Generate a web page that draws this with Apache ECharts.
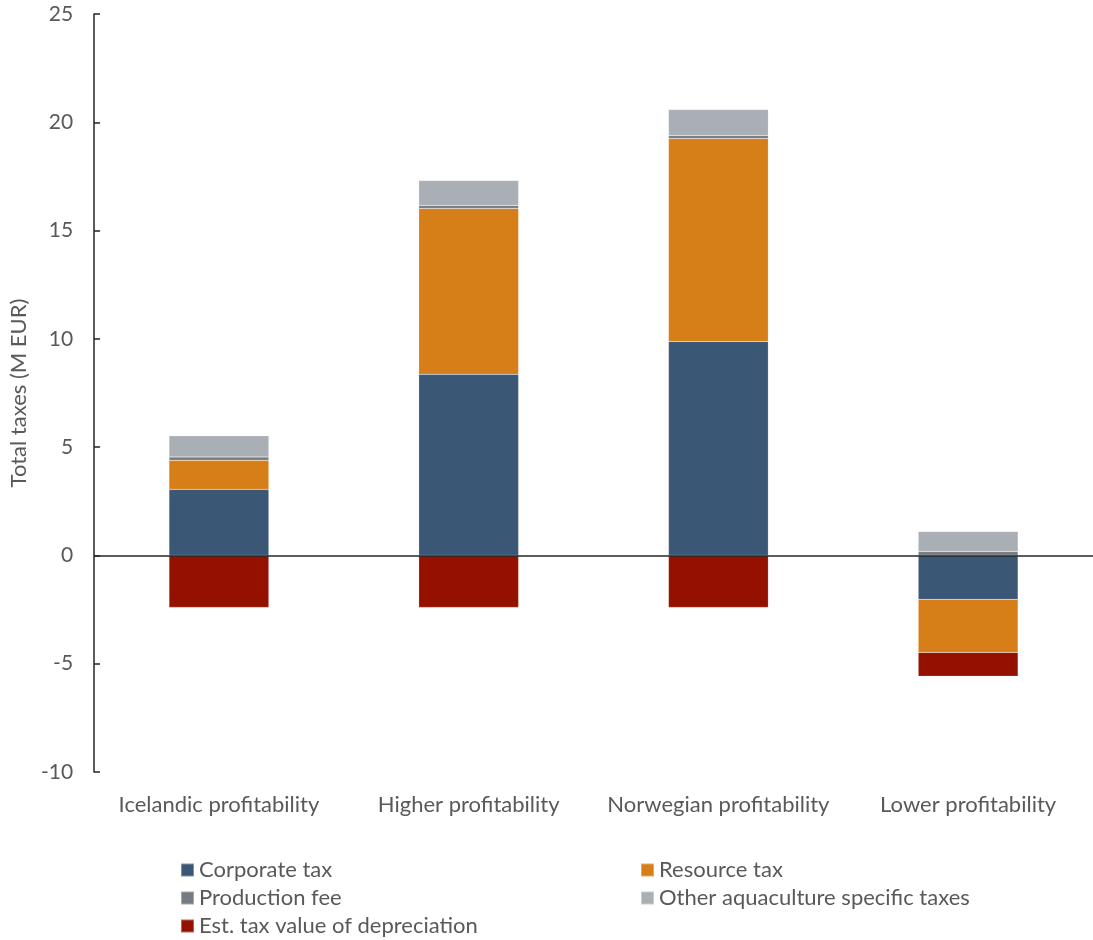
<!DOCTYPE html>
<html>
<head>
<meta charset="utf-8">
<script src="https://cdn.jsdelivr.net/npm/echarts@6/dist/echarts.min.js"></script>
<style>html,body{margin:0;padding:0;background:#fff}#chart{width:1093px;height:940px}</style>
</head>
<body>
<div id="chart"></div>
<script>
const categories = ['Icelandic profitability', 'Higher profitability', 'Norwegian profitability', 'Lower profitability'];
const corporateTax = [3.05, 8.36, 9.88, -2.03];
const resourceTax = [1.34, 7.66, 9.37, -2.45];
const productionFee = [0.16, 0.14, 0.14, 0.18];
const otherTaxes = [0.98, 1.15, 1.2, 0.92];
const depreciation = [-2.4, -2.4, -2.4, -1.1];
const yTicks = { min: -10, max: 25, interval: 5 };

const font = "Lato, 'Open Sans', sans-serif";
const colors = ['#3A5775', '#D67E17', '#757B80', '#A9AFB5', '#941100'];
const names = ['Corporate tax', 'Resource tax', 'Production fee', 'Other aquaculture specific taxes', 'Est. tax value of depreciation'];
const values = [corporateTax, resourceTax, productionFee, otherTaxes, depreciation];

const series = values.map((v, i) => ({
  name: names[i],
  type: 'bar',
  stack: 'total',
  barWidth: '40%',
  data: v,
  itemStyle: { color: colors[i], borderColor: 'rgba(255,255,255,0.35)', borderWidth: 0.5 },
  emphasis: { disabled: true }
}));
series[0].markLine = {
  silent: true,
  symbol: 'none',
  label: { show: false },
  lineStyle: { color: '#262626', width: 1.5, type: 'solid' },
  data: [{ yAxis: 0 }],
  z: 10
};

const legendText = { fontFamily: font, fontSize: 22, color: '#595959' };
// legend slot positions: [name index, left, top]
const legendSlots = [[0, 180, 859], [1, 640, 859], [2, 180, 887], [3, 640, 887], [4, 180, 915]];
const legends = legendSlots.map(([i, l, t]) => ({
  data: [names[i]],
  left: l, top: t, padding: 0,
  itemWidth: 13, itemHeight: 13, icon: 'rect', itemGap: 0,
  textStyle: legendText
}));

const chart = echarts.init(document.getElementById('chart'));
chart.setOption({
  animation: false,
  color: colors,
  grid: { left: 92, right: 0, top: 14, bottom: 168, containLabel: false },
  legend: legends,
  xAxis: {
    type: 'category',
    data: categories,
    axisLine: { show: false, onZero: false },
    axisTick: { show: false },
    axisLabel: { interval: 0, fontFamily: font, fontSize: 22, color: '#595959', margin: 22 }
  },
  yAxis: {
    type: 'value',
    min: yTicks.min, max: yTicks.max, interval: yTicks.interval,
    name: 'Total taxes (M EUR)',
    nameLocation: 'middle',
    nameGap: 63,
    nameTextStyle: { fontFamily: font, fontSize: 22, color: '#595959' },
    axisLine: { show: true, lineStyle: { color: '#262626', width: 1.5 } },
    axisTick: { show: true, inside: true, length: 6, lineStyle: { color: '#262626', width: 1.5 } },
    splitLine: { show: false },
    axisLabel: { fontFamily: font, fontSize: 21, color: '#595959', margin: 21 }
  },
  series: series
});
</script>
</body>
</html>
